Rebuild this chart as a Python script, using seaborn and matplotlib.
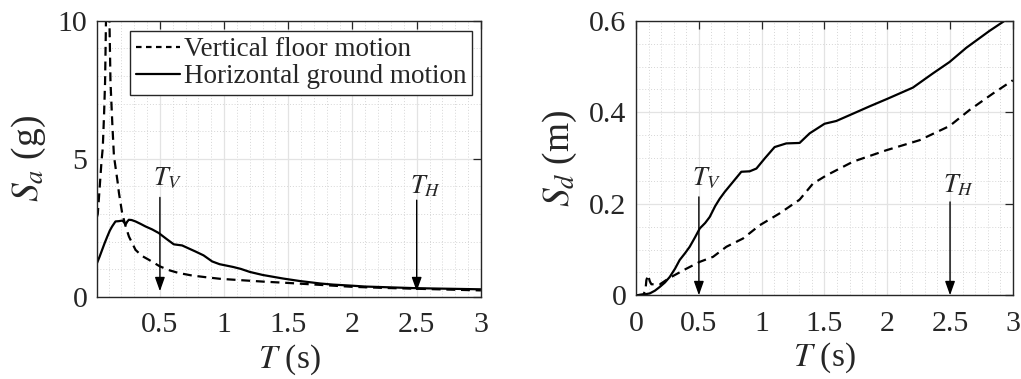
import numpy as np
import pandas as pd
import matplotlib
matplotlib.use("Agg")
import matplotlib.pyplot as plt
from matplotlib.ticker import MultipleLocator, FuncFormatter
import seaborn as sns

# Spectral acceleration (g): horizontal ground motion
T_sa_h = [0.01, 0.03, 0.05, 0.07, 0.09, 0.11, 0.128, 0.154, 0.18, 0.206, 0.222,
          0.232, 0.245, 0.258, 0.28, 0.31, 0.35, 0.387, 0.44, 0.491, 0.55, 0.608,
          0.673, 0.72, 0.777, 0.84, 0.907, 0.965, 1.07, 1.13, 1.2, 1.3, 1.46,
          1.59, 1.75, 1.85, 2.0, 2.1, 2.3, 2.5, 2.75, 3.0]
Sa_h = [1.22, 1.45, 1.70, 1.95, 2.18, 2.40, 2.55, 2.73, 2.74, 2.76, 2.70,
        2.61, 2.72, 2.79, 2.78, 2.73, 2.64, 2.55, 2.44, 2.31, 2.10, 1.90,
        1.86, 1.76, 1.64, 1.50, 1.28, 1.18, 1.08, 1.01, 0.90, 0.79, 0.66,
        0.57, 0.48, 0.44, 0.40, 0.37, 0.34, 0.31, 0.29, 0.27]

# Spectral acceleration (g): vertical floor motion
T_sa_v = [0.01, 0.016, 0.03, 0.045, 0.055, 0.065, 0.073, 0.08, 0.087, 0.093,
          0.1, 0.107, 0.115, 0.13, 0.142, 0.17, 0.181, 0.206, 0.232, 0.259,
          0.31, 0.36, 0.414, 0.5, 0.58, 0.647, 0.75, 0.855, 0.97, 1.1, 1.3,
          1.5, 1.75, 2.0, 2.25, 2.5, 2.75, 3.0]
Sa_v = [2.9, 3.0, 3.9, 4.9, 5.4, 6.6, 7.8, 10.0, 13.5, 16.0,
        14.0, 10.0, 7.8, 6.2, 5.1, 4.18, 3.76, 3.03, 2.57, 2.18,
        1.70, 1.48, 1.34, 1.10, 0.95, 0.86, 0.77, 0.71, 0.65, 0.61, 0.55,
        0.50, 0.43, 0.36, 0.32, 0.29, 0.26, 0.23]

# Spectral displacement (m): horizontal ground motion
T_sd_h = [0.0, 0.05, 0.109, 0.15, 0.188, 0.23, 0.268, 0.31, 0.347, 0.39, 0.427,
          0.47, 0.507, 0.55, 0.586, 0.63, 0.666, 0.706, 0.772, 0.838, 0.905,
          0.958, 1.024, 1.103, 1.196, 1.302, 1.382, 1.501, 1.594, 1.727, 1.859,
          2.005, 2.204, 2.363, 2.496, 2.629, 2.814, 2.934, 3.0]
Sd_h = [0.0, 0.001, 0.004, 0.01, 0.018, 0.028, 0.04, 0.058, 0.077, 0.092, 0.106,
        0.127, 0.146, 0.158, 0.171, 0.195, 0.211, 0.226, 0.248, 0.27, 0.271,
        0.277, 0.299, 0.324, 0.332, 0.333, 0.354, 0.375, 0.381, 0.397, 0.413,
        0.43, 0.454, 0.485, 0.51, 0.541, 0.578, 0.6, 0.612]

# Spectral displacement (m): vertical floor motion
T_sd_v = [0.01, 0.06, 0.075, 0.082, 0.095, 0.11, 0.122, 0.19, 0.25, 0.3, 0.4,
          0.507, 0.613, 0.719, 0.851, 0.984, 1.143, 1.302, 1.408, 1.515, 1.727,
          1.992, 2.257, 2.496, 2.655, 2.841, 3.0]
Sd_v = [0.0, 0.002, 0.012, 0.033, 0.044, 0.03, 0.024, 0.024, 0.035, 0.043, 0.058,
        0.073, 0.084, 0.106, 0.124, 0.153, 0.179, 0.209, 0.244, 0.262, 0.292,
        0.317, 0.339, 0.37, 0.405, 0.441, 0.47]

# Characteristic periods (s)
period_marks = {"V": 0.5, "H": 2.5}
series_names = ["Vertical floor motion", "Horizontal ground motion"]

sns.set_theme(style="white")
plt.rcParams["font.family"] = ["Liberation Serif", "DejaVu Serif"]
plt.rcParams["mathtext.fontset"] = "stix"

fig = plt.figure(figsize=(10.21, 3.79), dpi=100)
ax1 = fig.add_axes([0.095, 0.217, 0.376, 0.728])
ax2 = fig.add_axes([0.623, 0.221, 0.369, 0.724])

TXT = "#262626"


def frame(df_v, df_h, ax):
    sns.lineplot(data=df_v, x="T", y="S", ax=ax, color="black", lw=1.6,
                 label=series_names[0], sort=False)
    ax.lines[-1].set_linestyle((0, (4, 2.6)))
    sns.lineplot(data=df_h, x="T", y="S", ax=ax, color="black", lw=1.6,
                 label=series_names[1], sort=False)


def style_axes(ax, xlim, ylim, ymaj, ymin):
    ax.set_xlim(*xlim)
    ax.set_ylim(*ylim)
    ax.xaxis.set_major_locator(MultipleLocator(0.5))
    ax.xaxis.set_minor_locator(MultipleLocator(0.1))
    ax.yaxis.set_major_locator(MultipleLocator(ymaj))
    ax.yaxis.set_minor_locator(MultipleLocator(ymin))
    ax.xaxis.set_major_formatter(FuncFormatter(lambda v, p: f"{v:g}"))
    ax.grid(True, which="major", color="#e3e3e3", lw=0.9, ls="-")
    ax.grid(True, which="minor", color="#d6d6d6", lw=0.7, ls=(0, (1, 2)))
    ax.set_axisbelow(True)
    for s in ax.spines.values():
        s.set_visible(True)
        s.set_color(TXT)
        s.set_linewidth(1.0)
    ax.tick_params(which="major", direction="in", length=6, width=0.9,
                   top=True, right=True, labelsize=21.5, colors=TXT)
    ax.tick_params(which="minor", length=0)
    ax.tick_params(axis="x", pad=11)
    ax.tick_params(axis="y", pad=7)
    ax.set_xlabel(r"$T$ (s)", fontsize=24, labelpad=3, color=TXT)


def arrows(ax, y_start, y_end, y_text):
    for key, tx in period_marks.items():
        ax.annotate("", xy=(tx, y_end), xytext=(tx, y_start[key]),
                    arrowprops=dict(arrowstyle="-|>,head_length=0.7,head_width=0.25",
                                    color="black", lw=1.0, shrinkA=0, shrinkB=0),
                    zorder=5)
        ax.text(tx - 0.055, y_text[key], rf"$T_{{{key}}}$", fontsize=19,
                ha="left", va="baseline", color=TXT)


# Left panel: spectral acceleration
frame(pd.DataFrame({"T": T_sa_v, "S": Sa_v}),
      pd.DataFrame({"T": T_sa_h, "S": Sa_h}), ax1)
style_axes(ax1, (0.01, 3.0), (0, 10), 5, 1)
ax1.set_ylabel(r"$S_a$ (g)", fontsize=27, labelpad=7, color=TXT)
arrows(ax1, {"V": 3.6, "H": 3.5}, 0.2, {"V": 4.05, "H": 3.75})
leg = ax1.legend(loc="upper right", bbox_to_anchor=(0.977, 0.962),
                 borderaxespad=0, fontsize=19.5, frameon=True, fancybox=False,
                 framealpha=1, edgecolor=TXT, handlelength=1.6,
                 handletextpad=0.15, borderpad=0.22, labelspacing=0.08)
leg.get_frame().set_linewidth(1.0)
leg.get_lines()[0].set_linestyle((0, (2.5, 2.0)))

# Right panel: spectral displacement
frame(pd.DataFrame({"T": T_sd_v, "S": Sd_v}),
      pd.DataFrame({"T": T_sd_h, "S": Sd_h}), ax2)
style_axes(ax2, (0, 3.0), (0, 0.6), 0.2, 0.05)
ax2.set_ylabel(r"$S_d$ (m)", fontsize=27, labelpad=7, color=TXT)
ax2.get_legend().remove()
arrows(ax2, {"V": 0.215, "H": 0.204}, 0.0, {"V": 0.24, "H": 0.225})
ax2.yaxis.set_major_formatter(FuncFormatter(
    lambda v, p: "0" if abs(v) < 1e-9 else f"{v:.1f}"))

fig.savefig("out.png", dpi=100)
